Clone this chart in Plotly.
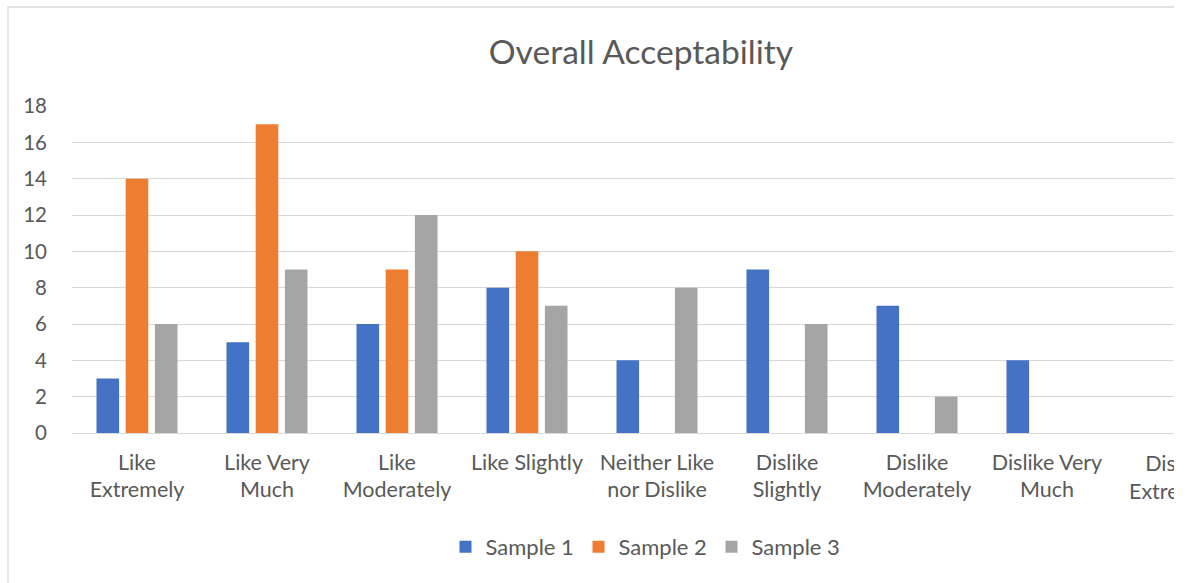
import plotly.graph_objects as go

# Hedonic scale categories and panel response counts
categories = [
    "Like Extremely", "Like Very Much", "Like Moderately", "Like Slightly",
    "Neither Like nor Dislike", "Dislike Slightly", "Dislike Moderately",
    "Dislike Very Much", "Dislike Extremely",
]
tick_labels = [
    "Like<br>Extremely", "Like Very<br>Much", "Like<br>Moderately", "Like Slightly",
    "Neither Like<br>nor Dislike", "Dislike<br>Slightly", "Dislike<br>Moderately",
    "Dislike Very<br>Much", "Dislike<br>Extremely",
]
sample_1 = [3, 5, 6, 8, 4, 9, 7, 4, 0]
sample_2 = [14, 17, 9, 10, 0, 0, 0, 0, 0]
sample_3 = [6, 9, 12, 7, 8, 6, 2, 0, 0]

series = [
    ("Sample 1", sample_1, "#4472C4"),
    ("Sample 2", sample_2, "#ED7D31"),
    ("Sample 3", sample_3, "#A5A5A5"),
]

FONT = "Lato"
TEXT = "#595959"
GRID = "#D9D9D9"
TICK_SIZE = 21.5

W, H = 1174, 583
ML, MR, MT, MB = 72, 0, 106, 150
x_lo, x_hi = -0.5, 7.977  # view ends partway through the last category

fig = go.Figure()
for name, vals, color in series:
    fig.add_trace(go.Bar(x=categories, y=vals, name=name, marker_color=color,
                         marker_line_width=0))

visible = [i for i in range(len(categories)) if x_lo < i < x_hi]
hidden = [i for i in range(len(categories)) if i not in visible]

# labels for categories past the right edge of the view, clipped by the page
annotations = []
for i in hidden:
    annotations.append(dict(
        text=tick_labels[i], xref="paper", yref="paper",
        x=(i - x_lo) / (x_hi - x_lo), y=0, yshift=-15,
        xanchor="center", yanchor="top", showarrow=False,
        font=dict(family=FONT, size=TICK_SIZE, color=TEXT),
    ))

fig.update_layout(
    width=W, height=H,
    margin=dict(l=ML, r=MR, t=MT, b=MB),
    paper_bgcolor="white", plot_bgcolor="white",
    barmode="group", bargap=0.326, bargroupgap=0.226,
    title=dict(text="Overall Acceptability", xref="container", x=641 / W,
               xanchor="center", yref="container", y=1 - 52 / H, yanchor="middle",
               font=dict(family=FONT, size=33.6, color=TEXT)),
    font=dict(family=FONT, size=TICK_SIZE, color=TEXT),
    xaxis=dict(
        type="category", categoryorder="array", categoryarray=categories,
        tickvals=[categories[i] for i in visible],
        ticktext=[tick_labels[i] for i in visible],
        range=[x_lo, x_hi], showgrid=False, showline=False, ticks="",
        ticklabelstandoff=14,
        tickfont=dict(family=FONT, size=TICK_SIZE, color=TEXT),
    ),
    yaxis=dict(
        range=[0, 18], dtick=2, showgrid=True, gridcolor=GRID, gridwidth=1,
        zeroline=True, zerolinecolor=GRID, zerolinewidth=1, showline=False,
        ticks="", ticklabelstandoff=24,
        tickfont=dict(family=FONT, size=20.5, color=TEXT),
    ),
    legend=dict(orientation="h", xref="container", x=645 / W, xanchor="center",
                yref="container", y=1 - 547 / H, yanchor="middle",
                font=dict(family=FONT, size=22, color=TEXT),
                itemwidth=30, entrywidth=88),
    annotations=annotations,
    shapes=[dict(type="rect", xref="paper", yref="paper",
                 x0=(8 - ML) / (W - ML - MR), x1=1.2,
                 y0=-0.6, y1=(H - MB - 7) / (H - MT - MB),
                 line=dict(color=GRID, width=1.3), fillcolor="rgba(0,0,0,0)",
                 layer="below")],
)

fig.write_html("out.html")
